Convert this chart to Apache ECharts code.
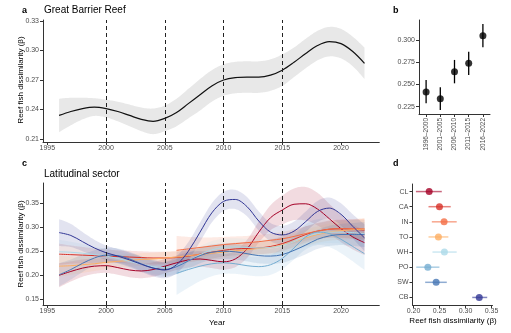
<!DOCTYPE html>
<html><head><meta charset="utf-8">
<script src="https://cdn.jsdelivr.net/npm/echarts@6/dist/echarts.min.js"></script>
<style>html,body{margin:0;padding:0;background:#fff}#c{width:511px;height:333px}</style>
</head><body><div id="c"></div>
<script>
// ---------- DATA ----------
const years = [1996,1997,1998,1999,2000,2001,2002,2003,2004,2005,2006,2007,2008,2009,2010,2011,2012,2013,2014,2015,2016,2017,2018,2019,2020,2021,2022];
const yearTicks = [1995,2000,2005,2010,2015,2020];
const breakYears = [2000,2005,2010,2015];

// panel a: Great Barrier Reef smooth + CI half-width
const gbrMean = [0.234,0.238,0.241,0.2425,0.241,0.238,0.234,0.230,0.228,0.231,0.237,0.246,0.255,0.264,0.270,0.2725,0.273,0.273,0.275,0.280,0.288,0.297,0.305,0.309,0.307,0.299,0.287];
const gbrSe   = [0.017,0.014,0.011,0.009,0.009,0.010,0.011,0.012,0.013,0.013,0.014,0.015,0.016,0.016,0.016,0.016,0.016,0.016,0.016,0.016,0.015,0.015,0.015,0.015,0.015,0.015,0.016];
const aTicks = [0.21,0.24,0.27,0.30,0.33];

// panel b: period means
const periods = ['1996–2000','2001–2005','2006–2010','2011–2015','2016–2022'];
const periodMean = [0.2416,0.234,0.2644,0.2738,0.3048];
const periodLow  = [0.2288,0.2213,0.2513,0.2607,0.2918];
const periodHigh = [0.255,0.2468,0.2776,0.2869,0.318];
const bTicks = [0.225,0.25,0.275,0.30];

// panel c: latitudinal sectors
const sectors = ['CL','CA','IN','TO','WH','PO','SW','CB'];
const sectorColors = ['#a50026','#d73027','#f46d43','#fdae61','#abd9e9','#74add1','#4575b4','#313695'];
const N = null;
const CL = [0.200,0.208,0.215,0.219,0.220,0.216,0.211,0.209,0.212,0.219,0.226,0.232,0.234,0.231,0.228,0.234,0.255,0.290,0.320,0.336,0.348,0.349,0.338,0.318,0.297,0.280,0.268];
const CA = [0.244,0.243,0.242,0.241,0.240,0.239,0.238,0.237,0.236,0.236,0.237,0.240,0.244,0.248,0.252,0.255,0.256,0.257,0.260,0.266,0.275,0.285,0.292,0.296,0.297,0.296,0.294];
const IN = [N,N,N,N,N,N,N,N,N,N,0.252,0.255,0.258,0.261,0.264,0.266,0.268,0.270,0.273,0.276,0.281,0.287,0.292,0.296,0.297,0.297,0.297];
const TO = [0.219,0.220,0.222,0.224,0.227,0.229,0.231,0.233,0.234,0.236,0.238,0.241,0.243,0.246,0.248,0.251,0.253,0.256,0.258,0.263,0.270,0.278,0.285,0.290,0.293,0.295,0.296];
const WH = [0.249,0.248,0.246,0.243,0.240,0.235,0.229,0.223,0.218,0.216,0.220,0.230,0.243,0.253,0.258,0.259,0.258,0.257,0.258,0.262,0.270,0.280,0.287,0.290,0.290,0.289,0.287];
const PO = [N,N,N,N,N,N,N,N,N,N,0.204,0.212,0.219,0.224,0.226,0.224,0.220,0.218,0.222,0.235,0.257,0.280,0.290,0.287,0.275,0.260,0.245];
const SW = [0.201,0.212,0.225,0.236,0.242,0.241,0.234,0.224,0.215,0.212,0.218,0.230,0.241,0.248,0.250,0.249,0.245,0.241,0.240,0.243,0.252,0.263,0.275,0.282,0.285,0.285,0.285];
const CB = [0.289,0.283,0.270,0.257,0.247,0.240,0.232,0.223,0.215,0.211,0.222,0.250,0.290,0.330,0.354,0.358,0.343,0.313,0.290,0.284,0.292,0.312,0.333,0.340,0.327,0.302,0.278];
const CLse = [0.025,0.021,0.018,0.016,0.015,0.015,0.015,0.015,0.015,0.015,0.015,0.016,0.016,0.016,0.016,0.017,0.019,0.022,0.026,0.030,0.033,0.035,0.034,0.031,0.028,0.026,0.026];
const CAse = [0.022,0.019,0.017,0.015,0.014,0.013,0.013,0.013,0.013,0.013,0.013,0.013,0.013,0.013,0.013,0.013,0.013,0.013,0.014,0.015,0.016,0.017,0.017,0.018,0.019,0.020,0.022];
const INse = [N,N,N,N,N,N,N,N,N,N,0.030,0.025,0.021,0.018,0.016,0.015,0.014,0.014,0.014,0.014,0.015,0.015,0.016,0.017,0.018,0.020,0.022];
const TOse = [0.022,0.019,0.017,0.015,0.014,0.013,0.013,0.013,0.013,0.013,0.013,0.013,0.013,0.013,0.013,0.013,0.013,0.013,0.014,0.015,0.016,0.017,0.017,0.018,0.019,0.020,0.022];
const WHse = [0.025,0.022,0.019,0.017,0.015,0.015,0.015,0.015,0.015,0.016,0.017,0.018,0.018,0.018,0.018,0.018,0.018,0.018,0.018,0.019,0.020,0.021,0.022,0.023,0.024,0.026,0.028];
const POse = [N,N,N,N,N,N,N,N,N,N,0.045,0.038,0.031,0.026,0.023,0.021,0.020,0.020,0.021,0.022,0.024,0.026,0.027,0.028,0.029,0.031,0.034];
const SWse = [0.024,0.021,0.018,0.016,0.015,0.015,0.015,0.015,0.015,0.015,0.016,0.016,0.016,0.016,0.016,0.016,0.016,0.016,0.016,0.017,0.018,0.019,0.020,0.021,0.022,0.024,0.026];
const CBse = [0.028,0.024,0.020,0.017,0.015,0.015,0.015,0.016,0.017,0.017,0.018,0.019,0.020,0.020,0.020,0.020,0.020,0.020,0.019,0.019,0.020,0.021,0.022,0.022,0.023,0.025,0.028];
const cTicks = [0.15,0.20,0.25,0.30,0.35];

// panel d: sector means
const sectorMean = [0.2301,0.2499,0.2588,0.2479,0.2594,0.2275,0.2435,0.3265];
const sectorLow  = [0.2046,0.2288,0.2352,0.2288,0.2364,0.2052,0.2224,0.313];
const sectorHigh = [0.2544,0.2716,0.2831,0.267,0.2831,0.2498,0.264,0.3418];
const dTicks = [0.20,0.25,0.30,0.35];

// ---------- CHART ----------
const FONT = 'Liberation Sans';
const lineSeriesData = [CL,CA,IN,TO,WH,PO,SW,CB];
const seData = [CLse,CAse,INse,TOse,WHse,POse,SWse,CBse];
const SMOOTH = 1/3;

function hexA(hex, a){const n=parseInt(hex.slice(1),16);return `rgba(${n>>16&255},${n>>8&255},${n&255},${a})`;}

const axisLineStyle = {lineStyle:{color:'#333',width:1}};
const tickStyle = {length:3, lineStyle:{color:'#333',width:1}};
const labelBase = {color:'#4d4d4d', fontSize:7, fontFamily:FONT};

function valAxis(gi, min, max, ticks, dec, extra){
  return Object.assign({type:'value', gridIndex:gi, min, max, scale:true,
    axisLine:Object.assign({show:true,onZero:false},axisLineStyle),
    axisTick:Object.assign({show:true,customValues:ticks},tickStyle),
    axisLabel:Object.assign({customValues:ticks, margin:4, formatter:v=>v.toFixed(dec)},labelBase),
    splitLine:{show:false}}, extra||{});
}

// Catmull-Rom densification in pixel space (equivalent to smooth 1/3 on uniform spacing)
function densify(P){
  const out=[]; const n=P.length;
  for(let i=0;i<n-1;i++){
    const p0=P[Math.max(i-1,0)], p1=P[i], p2=P[i+1], p3=P[Math.min(i+2,n-1)];
    const c1=[p1[0]+(p2[0]-p0[0])/6, p1[1]+(p2[1]-p0[1])/6];
    const c2=[p2[0]-(p3[0]-p1[0])/6, p2[1]-(p3[1]-p1[1])/6];
    for(let s=0;s<10;s++){
      const t=s/10, u=1-t;
      out.push([u*u*u*p1[0]+3*u*u*t*c1[0]+3*u*t*t*c2[0]+t*t*t*p2[0],
                u*u*u*p1[1]+3*u*u*t*c1[1]+3*u*t*t*c2[1]+t*t*t*p2[1]]);
    }
  }
  out.push(P[n-1]);
  return out;
}

function bandSeries(xi, yi, xs, mean, se, color, z){
  return {type:'custom', xAxisIndex:xi, yAxisIndex:yi, silent:true, z:z, data:[[xs[0], mean.find(v=>v!=null)]],
    renderItem:(params, api)=>{
      const up=[], lo=[];
      for(let i=0;i<xs.length;i++){
        if(mean[i]==null) continue;
        up.push(api.coord([xs[i], mean[i]+se[i]]));
        lo.push(api.coord([xs[i], mean[i]-se[i]]));
      }
      const pts = densify(up).concat(densify(lo).reverse());
      return {type:'polygon', shape:{points:pts}, style:{fill:color}};
    }};
}
function meanLine(xi, yi, xs, mean, color, width, z, extra){
  const d=[]; for(let i=0;i<xs.length;i++){ if(mean[i]!=null) d.push([xs[i],mean[i]]); }
  return Object.assign({type:'line', xAxisIndex:xi, yAxisIndex:yi, data:d, symbol:'none', smooth:SMOOTH,
    lineStyle:{color, width}, z:z, silent:true}, extra||{});
}
const dashMark = {symbol:'none', silent:true, label:{show:false},
  lineStyle:{type:[4,3], color:'#222', width:1}, data:breakYears.map(y=>({xAxis:y}))};

const series = [];
// panel a
series.push(bandSeries(0,0,years,gbrMean,gbrSe,'#e8e8e8',1));
series.push(meanLine(0,0,years,gbrMean,'#111',1.2,3,{markLine:dashMark}));
// panel b
series.push({type:'custom', xAxisIndex:1, yAxisIndex:1, silent:true,
  data: periods.map((p,i)=>[i, periodLow[i], periodHigh[i]]),
  renderItem:(params,api)=>{const a=api.coord([api.value(0),api.value(1)]);const b=api.coord([api.value(0),api.value(2)]);
    return {type:'line', shape:{x1:a[0],y1:a[1],x2:b[0],y2:b[1]}, style:{stroke:'#000', lineWidth:1.3}};}, z:2});
series.push({type:'scatter', xAxisIndex:1, yAxisIndex:1, data:periods.map((p,i)=>[i,periodMean[i]]), symbolSize:7, itemStyle:{color:'#000'}, silent:true, z:3});
// panel c bands
lineSeriesData.forEach((m,k)=>{ series.push(bandSeries(2,2,years,m,seData[k],hexA(sectorColors[k],0.14),1)); });
lineSeriesData.forEach((m,k)=>{ series.push(meanLine(2,2,years,m,sectorColors[k],1,3, k===0?{markLine:Object.assign({},dashMark)}:null)); });
// panel d
series.push({type:'custom', xAxisIndex:3, yAxisIndex:3, silent:true,
  data: sectors.map((s,i)=>[sectorLow[i], sectorHigh[i], i]),
  encode:{x:[0,1], y:2},
  renderItem:(params,api)=>{const a=api.coord([api.value(0),api.value(2)]);const b=api.coord([api.value(1),api.value(2)]);
    return {type:'line', shape:{x1:a[0],y1:a[1],x2:b[0],y2:b[1]}, style:{stroke:hexA(sectorColors[params.dataIndex],0.6), lineWidth:1.5}};}, z:2});
series.push({type:'scatter', xAxisIndex:3, yAxisIndex:3, data:sectors.map((s,i)=>({value:[sectorMean[i],i], itemStyle:{color:sectorColors[i]}})), symbolSize:7, silent:true, z:3});

const txt = (x,y,t,size,weight,extra)=>Object.assign({type:'text', x, y, silent:true,
  style:{text:t, fill:'#000', font:`${weight||'normal'} ${size}px ${FONT}`, textVerticalAlign:'middle'}}, extra||{});

const option = {
  animation:false,
  backgroundColor:'#fff',
  grid:[
    {left:43, top:20, width:336.3, height:122},
    {left:419, top:20, width:71, height:94},
    {left:43, top:183, width:336.3, height:122},
    {left:412.5, top:184, width:80, height:121}
  ],
  xAxis:[
    valAxis(0,1994.63,2023.26,yearTicks,0,{axisLabel:Object.assign({customValues:yearTicks,margin:3,formatter:v=>String(v)},labelBase)}),
    {type:'category', gridIndex:1, data:periods, boundaryGap:true,
      axisLine:Object.assign({show:true},axisLineStyle), axisTick:Object.assign({show:true,alignWithLabel:true},tickStyle),
      axisLabel:Object.assign({rotate:90, margin:4, interval:0},labelBase,{fontSize:6.5})},
    valAxis(2,1994.63,2023.26,yearTicks,0,{axisLabel:Object.assign({customValues:yearTicks,margin:3,formatter:v=>String(v)},labelBase)}),
    valAxis(3,0.198,0.352,dTicks,2,{axisLabel:Object.assign({customValues:dTicks,margin:3,formatter:v=>v.toFixed(2)},labelBase)})
  ],
  yAxis:[
    valAxis(0,0.207,0.331,aTicks,2),
    valAxis(1,0.2168,0.3225,bTicks,3),
    valAxis(2,0.1381,0.3923,cTicks,2),
    {type:'category', gridIndex:3, data:sectors, inverse:true, boundaryGap:true,
      axisLine:Object.assign({show:true},axisLineStyle), axisTick:Object.assign({show:true,alignWithLabel:true},tickStyle),
      axisLabel:Object.assign({margin:4, interval:0},labelBase)}
  ],
  series,
  graphic:[
    txt(22,10.5,'a',9,'bold'),
    txt(44,10.5,'Great Barrier Reef',10),
    txt(393,10.5,'b',9,'bold'),
    txt(22,164,'c',9,'bold'),
    txt(44,174.5,'Latitudinal sector',10),
    txt(393,164,'d',9,'bold'),
    {type:'text', x:21, y:80, rotation:Math.PI/2, silent:true, style:{text:'Reef fish dissimilarity (β)', fill:'#000', font:`8px ${FONT}`, textAlign:'center', textVerticalAlign:'middle'}},
    {type:'text', x:21, y:244, rotation:Math.PI/2, silent:true, style:{text:'Reef fish dissimilarity (β)', fill:'#000', font:`8px ${FONT}`, textAlign:'center', textVerticalAlign:'middle'}},
    {type:'text', x:217, y:322.5, silent:true, style:{text:'Year', fill:'#000', font:`8px ${FONT}`, textAlign:'center', textVerticalAlign:'middle'}},
    {type:'text', x:453, y:321, silent:true, style:{text:'Reef fish dissimilarity (β)', fill:'#000', font:`8px ${FONT}`, textAlign:'center', textVerticalAlign:'middle'}}
  ]
};
const chart = echarts.init(document.getElementById('c'), null, {renderer:'canvas'});
chart.setOption(option);
</script></body></html>
